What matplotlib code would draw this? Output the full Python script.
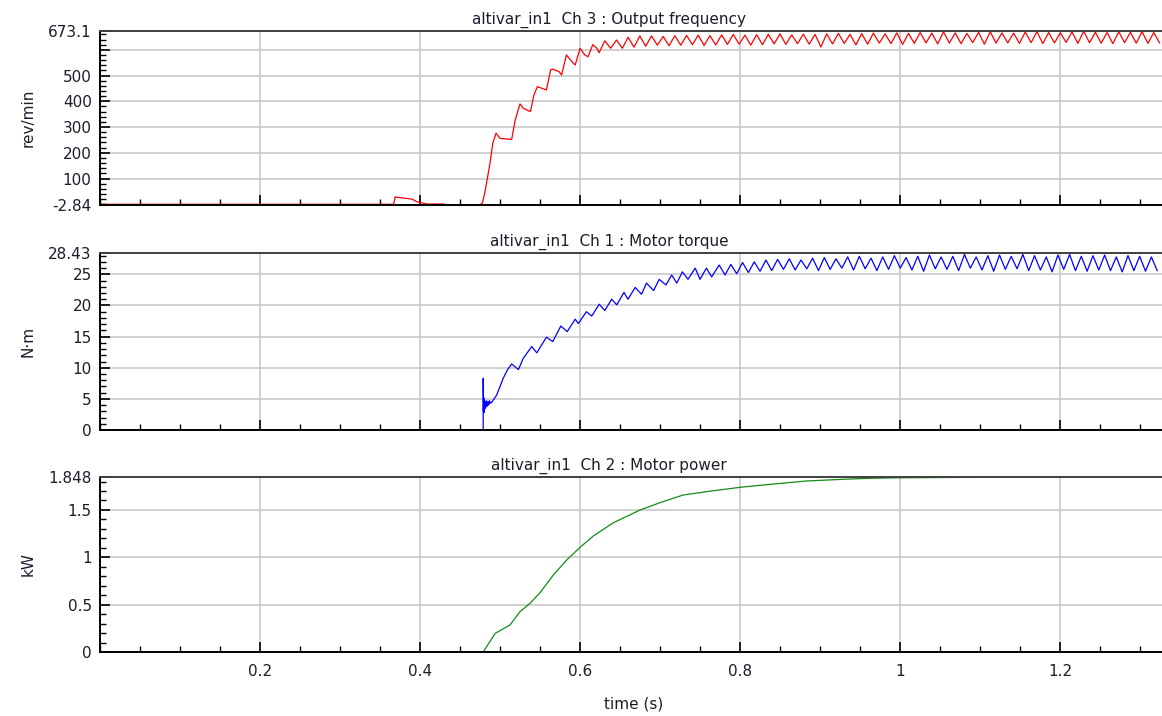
import numpy as np
import matplotlib
matplotlib.use('Agg')
import matplotlib.pyplot as plt
from matplotlib.ticker import MultipleLocator, FixedLocator, FixedFormatter

# Ch 3 : Output frequency (rev/min) - start-up part, read point by point
freq_t = [0.0, 0.367, 0.369, 0.372, 0.39, 0.396, 0.408, 0.43, 0.431, 0.474, 0.478, 0.481,
          0.4875, 0.491, 0.495, 0.5, 0.5146, 0.519, 0.525, 0.529, 0.538, 0.5425, 0.5467,
          0.558, 0.5633, 0.566, 0.574, 0.577, 0.583, 0.5917, 0.594, 0.6, 0.606, 0.61,
          0.616, 0.621, 0.624]
freq_v = [0, 0, 29, 27, 20, 10, 1, 1, -2.84, -2.84, 5, 44, 159, 237, 276, 256, 252, 327,
          390, 373, 360, 425, 457, 444, 522, 525, 515, 502, 580, 548, 541, 606, 580, 573,
          620, 606, 589]
# steady ripple: one peak + one trough per sample period
freq_osc_start = 0.631
freq_osc_period = 0.0146
freq_peaks = [635, 638, 649, 654, 654, 652, 655, 656, 657, 655, 658, 660, 657, 659, 660, 662,
              658, 661, 660, 662, 664, 660, 663, 665, 662, 666, 664, 667, 665, 670, 666, 664,
              668, 670, 666, 665, 669, 671, 667, 666, 670, 672, 668, 667, 670, 668, 671, 667]
freq_troughs = [606, 606, 610, 614, 618, 616, 618, 620, 617, 619, 621, 622, 618, 620, 623, 621,
                624, 622, 611, 623, 625, 619, 622, 626, 624, 621, 625, 627, 623, 626, 624, 628,
                622, 626, 627, 625, 628, 624, 627, 629, 625, 628, 626, 624, 628, 626, 625, 627]

# Ch 1 : Motor torque (N.m)
torque_t = [0.479, 0.479, 0.4793, 0.4797, 0.480, 0.4805, 0.481, 0.4815, 0.482, 0.483, 0.484,
            0.485, 0.486, 0.487, 0.488, 0.490, 0.492, 0.4958, 0.504, 0.509, 0.5146, 0.523,
            0.529, 0.5396, 0.546, 0.558, 0.566, 0.576, 0.584, 0.594, 0.598, 0.608, 0.6146,
            0.624, 0.631, 0.6396, 0.646, 0.655, 0.660, 0.669, 0.677, 0.683, 0.692, 0.699,
            0.7075, 0.7146, 0.721, 0.728, 0.735, 0.744, 0.75, 0.758, 0.7646]
torque_v = [0, 8.3, 3.0, 5.2, 2.8, 4.8, 3.4, 4.6, 3.6, 4.7, 3.8, 4.6, 4.0, 4.7, 4.3, 4.5, 4.9,
            5.6, 8.3, 9.6, 10.6, 9.7, 11.5, 13.4, 12.4, 14.9, 14.2, 16.7, 15.8, 17.8, 17.1,
            19.0, 18.3, 20.2, 19.2, 21.0, 20.1, 22.1, 21.0, 22.9, 21.8, 23.6, 22.4, 24.2, 23.3,
            24.9, 23.6, 25.4, 24.2, 26.0, 24.2, 26.0, 24.6]
torque_osc_start = 0.774
torque_osc_period = 0.0146
torque_peaks = [26.5, 26.6, 26.9, 27.0, 27.3, 27.4, 27.5, 27.3, 27.6, 27.7, 27.5, 27.8, 27.9,
                27.6, 27.8, 28.0, 27.7, 27.9, 28.1, 27.8, 27.9, 28.2, 27.8, 28.0, 28.1, 27.9,
                28.2, 28.0, 27.8, 28.1, 28.2, 27.9, 28.0, 28.1, 27.8, 28.0, 27.9, 27.8]
torque_troughs = [24.9, 25.1, 25.3, 25.5, 25.6, 25.8, 25.7, 25.9, 25.6, 25.8, 26.0, 25.7, 25.9,
                  25.6, 25.8, 26.0, 25.7, 25.5, 25.9, 25.8, 25.6, 26.0, 25.7, 25.5, 25.8, 25.9,
                  25.6, 25.7, 25.4, 25.8, 25.6, 25.5, 25.7, 25.6, 25.4, 25.6, 25.5, 25.6]

# Ch 2 : Motor power (kW)
power_t = [0.479, 0.494, 0.5125, 0.525, 0.5375, 0.55, 0.5667, 0.5833, 0.6, 0.6167, 0.6417,
           0.675, 0.7, 0.729, 0.758, 0.8, 0.842, 0.883, 0.9375, 0.966, 1.0, 1.1, 1.2, 1.3275]
power_v = [0.0, 0.197, 0.285, 0.426, 0.514, 0.626, 0.813, 0.971, 1.105, 1.225, 1.365, 1.499,
           1.577, 1.658, 1.693, 1.739, 1.774, 1.806, 1.827, 1.835, 1.840, 1.845, 1.847, 1.847]

x_ticks = [0.2, 0.4, 0.6, 0.8, 1.0, 1.2]
x_labels = ['0.2', '0.4', '0.6', '0.8', '1', '1.2']


def ripple(t, v, start, period, peaks, troughs):
    # append alternating peak/trough samples after the hand-read start-up part
    n = len(peaks)
    tp = start + np.arange(n) * period
    tt = tp + period / 2
    t_all = np.empty(2 * n)
    v_all = np.empty(2 * n)
    t_all[0::2], t_all[1::2] = tp, tt
    v_all[0::2], v_all[1::2] = peaks, troughs
    return np.concatenate([t, t_all]), np.concatenate([v, v_all])


ft, fv = ripple(freq_t, freq_v, freq_osc_start, freq_osc_period, freq_peaks, freq_troughs)
tt, tv = ripple(torque_t, torque_v, torque_osc_start, torque_osc_period, torque_peaks, torque_troughs)

W, H = 1162, 716
fig = plt.figure(figsize=(W / 100, H / 100), dpi=100)
txt_col = '#1c1c2c'
fs = 11


def make_axes(left, top, right, bottom):
    return fig.add_axes([left / W, 1 - bottom / H, (right - left) / W, (bottom - top) / H])


panels = [
    dict(box=(100, 31, 1162, 205), t=ft, v=fv, color='#ff0000', ylim=(-2.84, 673.1),
         yt=[-2.84, 100, 200, 300, 400, 500, 600, 673.1],
         yl=['-2.84', '100', '200', '300', '400', '500', '', '673.1'], minor=20,
         title='altivar_in1  Ch 3 : Output frequency', unit='rev/min'),
    dict(box=(100, 253, 1162, 430), t=tt, v=tv, color='#0000ff', ylim=(0, 28.43),
         yt=[0, 5, 10, 15, 20, 25, 28.43], yl=['0', '5', '10', '15', '20', '25', '28.43'],
         minor=1, title='altivar_in1  Ch 1 : Motor torque', unit='N·m'),
    dict(box=(100, 477, 1162, 652), t=power_t, v=power_v, color='#138a13', ylim=(0, 1.848),
         yt=[0, 0.5, 1, 1.5, 1.848], yl=['0', '0.5', '1', '1.5', '1.848'], minor=0.1,
         title='altivar_in1  Ch 2 : Motor power', unit='kW'),
]

for i, p in enumerate(panels):
    ax = make_axes(*p['box'])
    ax.plot(p['t'], p['v'], color=p['color'], lw=0.9)
    ax.set_xlim(0, 1.3275)
    ax.set_ylim(*p['ylim'])
    ax.xaxis.set_major_locator(FixedLocator(x_ticks))
    ax.xaxis.set_minor_locator(MultipleLocator(0.05))
    ax.yaxis.set_major_locator(FixedLocator(p['yt']))
    ax.yaxis.set_major_formatter(FixedFormatter(p['yl']))
    ax.yaxis.set_minor_locator(MultipleLocator(p['minor']))
    ax.grid(True, which='major', color='#c8c8c8', lw=1.2)
    ax.set_axisbelow(True)
    ax.tick_params(which='both', direction='in', colors='black', labelcolor=txt_col,
                   labelsize=fs, top=False, right=False)
    ax.tick_params(which='major', length=7, width=1.2)
    ax.tick_params(which='minor', length=4, width=1)
    ax.tick_params(axis='y', pad=6)
    ax.tick_params(axis='x', pad=9)
    if i < 2:
        ax.set_xticklabels([])
    else:
        ax.set_xticklabels(x_labels)
    ax.spines['right'].set_visible(False)
    ax.spines['top'].set_color('#404040')
    for s in ['left', 'bottom', 'top']:
        ax.spines[s].set_linewidth(1.4)
    left, top, right, bottom = p['box']
    fig.text(609 / W, 1 - (top - 11) / H, p['title'], ha='center', va='center',
             fontsize=fs, color=txt_col)
    fig.text(28 / W, 1 - (top + bottom) / 2 / H, p['unit'], rotation=90, ha='center',
             va='center', fontsize=fs, color=txt_col)

fig.text(634 / W, 1 - 704 / H, 'time (s)', ha='center', va='center', fontsize=fs, color=txt_col)

fig.savefig('out.png', dpi=100)
